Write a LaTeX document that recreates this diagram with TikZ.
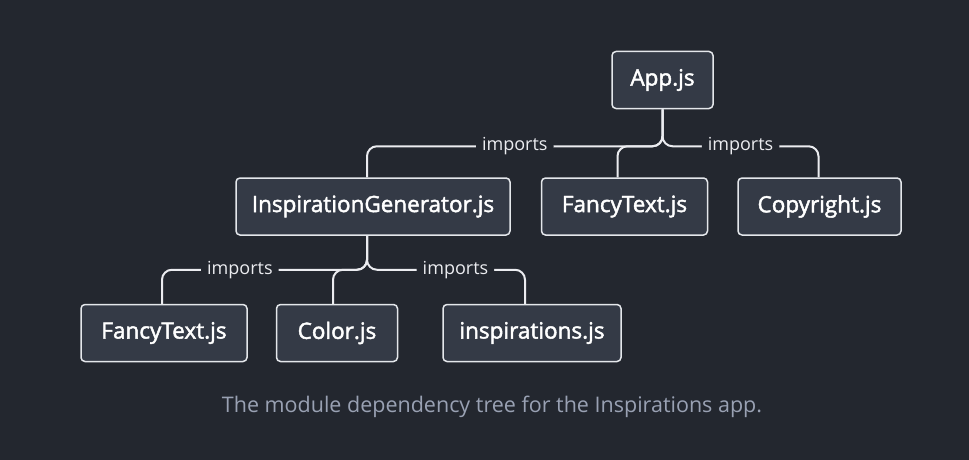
\documentclass[tikz,border=0pt]{standalone}
\usepackage{fontspec}
\setmainfont{Open Sans}
\newfontfamily\filefont{Open Sans}[FakeBold=2]
\usetikzlibrary{positioning}

\definecolor{pagebg}{HTML}{23272F}
\definecolor{boxfill}{HTML}{343A46}
\definecolor{boxline}{HTML}{E4E7EB}
\definecolor{linkline}{HTML}{EBECF0}
\definecolor{captiongray}{HTML}{99A1B3}

\begin{document}
\begin{tikzpicture}[
                    x=1pt, y=-1pt,
                    node distance=30pt,
                    file/.style={rectangle, draw=boxline, line width=1.5pt, fill=boxfill, rounded corners=4pt, minimum height=57pt, inner sep=0pt, text=white, font=\fontsize{22.5}{24}\filefont},
                    link/.style={draw=linkline, line width=2pt, rounded corners=10pt},
                    tag/.style={fill=pagebg, text=linkline, inner xsep=6pt, inner ysep=2pt, font=\fontsize{18}{20}\selectfont}
                ]
                    \fill [pagebg] (0,0) rectangle (969,460);
                    \useasboundingbox (0,0) rectangle (969,460);

                    % Place nodes
                    \node [file, minimum width=101pt] (app) at (662.5,80) {App.js};

                    \node [file, minimum width=274pt] (generator) at (373,206.5) {InspirationGenerator.js};
                    \node [file, minimum width=166pt, right=30pt of generator] (fancytop) {FancyText.js};
                    \node [file, minimum width=163pt, right=29pt of fancytop] (copyright) {Copyright.js};

                    \node [file, minimum width=166pt] (fancylow) at (164,333) {FancyText.js};
                    \node [file, minimum width=121pt, right=28pt of fancylow] (color) {Color.js};
                    \node [file, minimum width=178pt, right=44pt of color] (inspirations) {inspirations.js};

                    \node [font=\fontsize{21.5}{24}\selectfont, text=captiongray] (caption) at (492,407) {The module dependency tree for the Inspirations app.};

                    % Draw edges
                    \path [link] (app.south) -- ++(0,37) -| node [tag, pos=0.25] {imports} ([xshift=-6pt]generator.north);
                    \path [link] (app.south) -- ++(0,37) -| ([xshift=-7pt]fancytop.north);
                    \path [link] (app.south) -- ++(0,37) -| node [tag, pos=0.25] {imports} ([xshift=-1pt]copyright.north);

                    \path [link] ([xshift=-6pt]generator.south) -- ++(0,34) -| node [tag, pos=0.31] {imports} ([xshift=-2pt]fancylow.north);
                    \path [link] ([xshift=-6pt]generator.south) -- ++(0,34) -| ([xshift=-4pt]color.north);
                    \path [link] ([xshift=-6pt]generator.south) -- ++(0,34) -| node [tag, pos=0.28] {imports} ([xshift=-7pt]inspirations.north);
            \end{tikzpicture}
\end{document}
